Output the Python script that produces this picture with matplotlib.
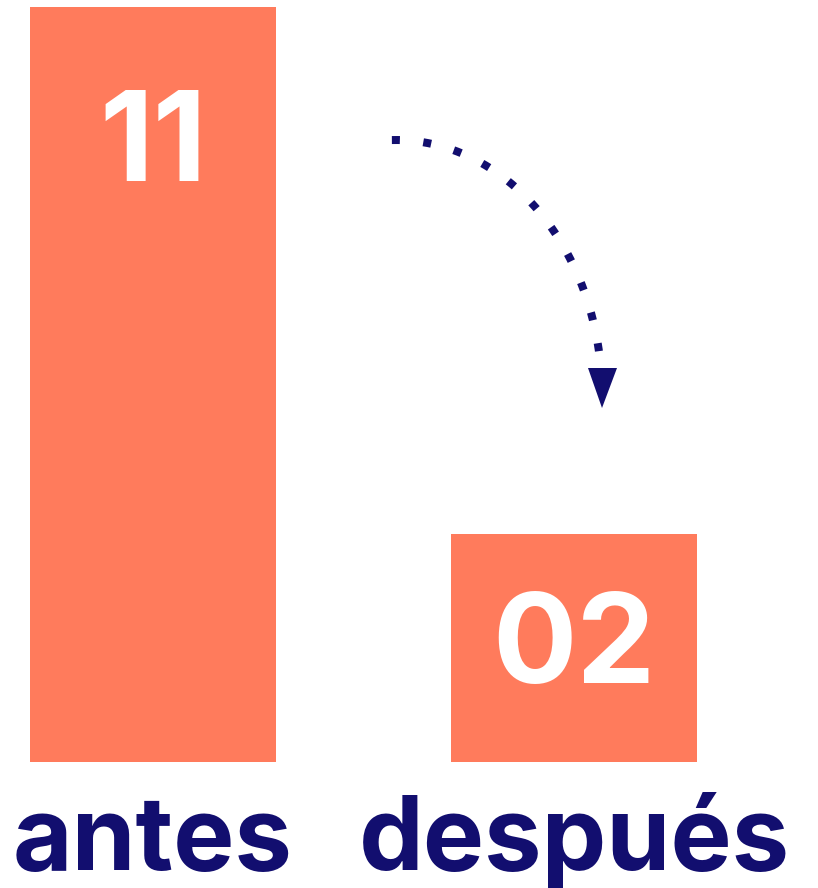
import numpy as np
import matplotlib
matplotlib.use("Agg")
import matplotlib.pyplot as plt
from matplotlib.transforms import Affine2D, offset_copy
from matplotlib.patches import Polygon

# ---- data ----
categories = ["antes", "después"]
values = [11, 2]
value_labels = ["11", "02"]
bar_heights = [11, 3.32]   # drawn heights as they appear in the picture

BAR = "#FF7B5C"
NAVY = "#120E6F"
W, H = 818, 888

plt.rcParams['font.family'] = ['Inter', 'DejaVu Sans']
fig = plt.figure(figsize=(W / 100, H / 100), dpi=100)
ax = fig.add_axes([0, 126 / H, 1, 755 / H])
ax.set_xlim(-153 / 421, (W - 153) / 421)
ax.set_ylim(0, 11)
ax.axis("off")

x = np.arange(len(categories))
ax.bar(x, bar_heights, width=246 / 421, color=BAR, linewidth=0)

val_offsets = [-174, -149]
for xi, h, lab, off in zip(x, bar_heights, value_labels, val_offsets):
    tr = offset_copy(ax.transData, fig=fig, x=0, y=off * 0.72, units='points')
    ax.text(xi, h, lab, transform=tr, ha='center', va='baseline',
            color='white', fontsize=90, fontweight='bold')

for xi, cat in zip(x, categories):
    tr = offset_copy(ax.transData, fig=fig, x=0, y=-108 * 0.72, units='points')
    ax.text(xi, 0, cat, transform=tr, ha='center', va='baseline',
            color=NAVY, fontsize=74, fontweight='bold')

# ---- curved dotted arrow (pixel coords from top-left) ----
pix = Affine2D().scale(1, -1).translate(0, H)
cx, cy, a, b = 396, 395, 206, 255
th = np.linspace(np.pi / 2 + 0.02, 0.13, 200)
px = cx + a * np.cos(th)
py = cy - b * np.sin(th)
fig.add_artist(plt.Line2D(px, py, transform=pix,
                          color=NAVY, linewidth=8 * 0.72, solid_capstyle='butt',
                          dash_capstyle='butt', dashes=(1, 2.94)))
tri = Polygon([[588, 368], [617, 368], [602, 408]], closed=True, transform=pix,
              facecolor=NAVY, edgecolor='none')
fig.add_artist(tri)

fig.savefig("out.png", dpi=100)
